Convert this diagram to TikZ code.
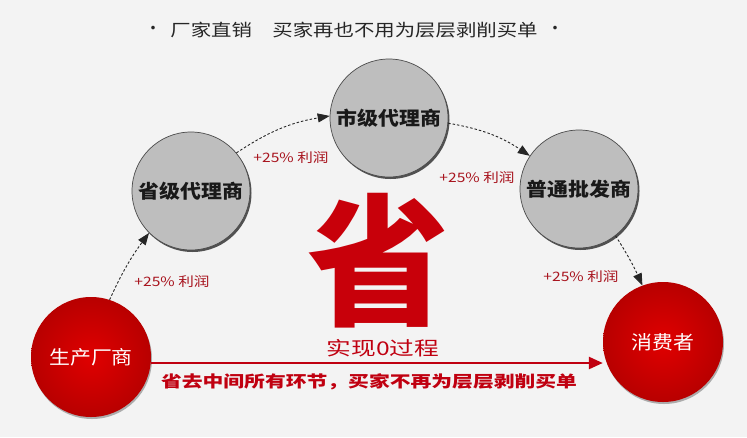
\documentclass[tikz,border=0pt]{standalone}
\usepackage{fontspec}
\setmainfont{Noto Sans CJK SC}
\usetikzlibrary{arrows.meta,shadows,calc}
\definecolor{bgcol}{HTML}{F3F3F3}
\definecolor{circgray}{HTML}{BEBEBE}
\definecolor{circedge}{HTML}{4A4A4A}
\definecolor{redin}{HTML}{E00000}
\definecolor{redout}{HTML}{B80000}
\definecolor{bigred}{HTML}{C8000A}
\definecolor{lblred}{HTML}{A8141E}
\definecolor{txtred}{HTML}{C00010}
\begin{document}
\begin{tikzpicture}[x=1pt,y=1pt,
  graycirc/.style={circle, minimum size=118pt, inner sep=0pt, fill=circgray,
    draw=circedge, line width=0.7pt,
    drop shadow={shadow xshift=1.5pt, shadow yshift=-2pt, fill=black!75, opacity=0.9},
    font=\fontsize{19}{19}\selectfont\bfseries, text=black!90},
  redcirc/.style={circle, minimum size=120pt, inner sep=0pt, inner color=redin,
    outer color=redout,
    drop shadow={shadow xshift=1pt, shadow yshift=-2pt, fill=black!60, opacity=0.5},
    font=\fontsize{19}{19}\selectfont, text=white},
  lbl/.style={font=\fontsize{13}{13}\selectfont, text=lblred, inner sep=0pt},
  dasharrow/.style={draw=black!85, line width=0.9pt, dash pattern=on 2.5pt off 2pt,
    -{Triangle[length=12pt,width=9pt,fill=black!85]}},
  redarrow/.style={draw=txtred, line width=2.5pt, -{Triangle[length=14pt,width=12pt]}},
]
\fill[bgcol] (0,0) rectangle (747,-437);
\useasboundingbox (0,0) rectangle (747,-437);

% title
\node[font=\fontsize{17}{17}\selectfont, text=black!85] (title) at (354,-30)
  {\scalebox{1.2}[1]{厂家直销\hspace{1em}买家再也不用为层层剥削买单}};
\node[font=\fontsize{17}{17}\selectfont, text=black!85] (bl) at (153,-30) {•};
\node[font=\fontsize{17}{17}\selectfont, text=black!85] (br) at (555,-30) {•};

% big character
\node[font=\fontsize{142}{142}\selectfont\bfseries, text=bigred, inner sep=0pt] (sheng) at (378,-261) {省};

% nodes
\node[redcirc] (mfr) at (91,-357) {\scalebox{1.1}[1]{生产厂商}};
\node[graycirc] (prov) at (191,-191) {\scalebox{1.1}[1]{省级代理商}};
\node[graycirc] (city) at (389,-118) {\scalebox{1.1}[1]{市级代理商}};
\node[graycirc] (whole) at (579,-189) {\scalebox{1.1}[1]{普通批发商}};
\node[redcirc] (cons) at (663,-342) {\scalebox{1.1}[1]{消费者}};

% dashed arrows
\draw[dasharrow] (mfr.72) to[bend left=6] (prov.225);
\draw[dasharrow] (prov.40) to[bend left=12] (city.178);
\draw[dasharrow] (city.-5) to[bend left=12] (whole.146);
\draw[dasharrow] (whole.-52) to[bend left=4] (cons.110);

% labels
\node[lbl] (l1) at (172,-282) {\scalebox{1.2}[1]{+25\% 利润}};
\node[lbl] (l2) at (291,-158) {\scalebox{1.2}[1]{+25\% 利润}};
\node[lbl] (l3) at (477,-178) {\scalebox{1.2}[1]{+25\% 利润}};
\node[lbl] (l4) at (581,-277) {\scalebox{1.2}[1]{+25\% 利润}};

% red arrow
\draw[redarrow] ([yshift=-6pt]mfr.east) -- ([yshift=-6pt]mfr.east -| cons.west);
\node[font=\fontsize{19}{19}\selectfont, text=txtred] (zero) at (383,-348)
  {\scalebox{1.3}[1]{实现0过程}};
\node[font=\fontsize{16}{16}\selectfont\bfseries, text=txtred] (sub) at (369,-382)
  {\scalebox{1.3}[1]{省去中间所有环节，买家不再为层层剥削买单}};
\end{tikzpicture}
\end{document}
